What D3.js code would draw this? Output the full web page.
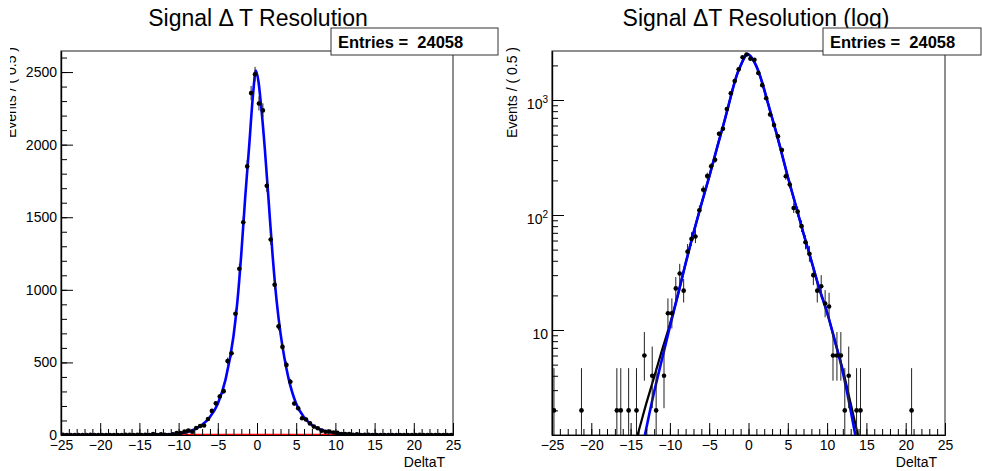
<!DOCTYPE html>
<html lang="en">
<head>
<meta charset="utf-8">
<title>Signal DeltaT Resolution</title>
<script src="https://cdn.jsdelivr.net/npm/d3@7"></script>
<style>
  body { margin: 0; background: #fff; }
  svg text { font-family: "Liberation Sans", Arial, sans-serif; fill: #000; }
</style>
</head>
<body>
<script>
var W = 982, H = 471;

// histogram: 100 bins of 0.5 from -25 to 25
var binLow = -25, binWidth = 0.5;
var counts = [
  2, 0, 0, 0, 0, 0, 0, 2, 0, 0,
  0, 0, 0, 0, 0, 0, 2, 2, 0, 2,
  0, 2, 0, 6, 0, 4, 2, 0, 4, 14,
  14, 23, 31, 22, 48, 62, 65, 110, 166, 218,
  265, 302, 509, 563, 835, 1145, 1465, 1850, 2355, 2485,
  2283, 2236, 1716, 1347, 1035, 748, 607, 483, 367, 217,
  184, 115, 107, 80, 58, 46, 30, 22, 24, 17,
  16, 6, 6, 6, 2, 4, 0, 2, 2, 0,
  0, 0, 0, 0, 0, 0, 0, 0, 0, 0,
  0, 2, 0, 0, 0, 0, 0, 0, 0, 0
];

// fit curves
var fitX = [-25, -20, -16, -15, -14, -13, -12, -11, -10, -9, -8, -7, -6, -5, -4, -3, -2.5, -2, -1.5, -1,
            -0.5, -0.15, 0.2, 0.5, 1, 1.5, 2, 2.5, 3, 3.5, 4, 5, 6, 7, 8, 9, 10, 11, 12, 13,
            14, 15, 16, 20, 25];
var fitSig = [0.001, 0.01, 0.12, 0.3, 0.65, 1.4, 2.9, 5.6, 10.7, 20, 38, 70, 124, 215, 385, 680, 920, 1250, 1640, 1990,
              2350, 2510, 2430, 2280, 1970, 1600, 1230, 925, 700, 530, 395, 215, 122, 69, 40, 23, 14.2, 8, 4.3, 2.0,
              0.85, 0.33, 0.12, 0.01, 0.001];
var fitTot = [0.05, 0.2, 0.45, 0.75, 1.3, 2.3, 3.9, 6.7, 11.2, 20, 38, 70, 124, 215, 385, 680, 920, 1250, 1640, 1990,
              2350, 2510, 2430, 2280, 1970, 1600, 1230, 925, 700, 530, 395, 215, 122, 69, 40, 23, 14.2, 8, 4.5, 2.3,
              1.15, 0.55, 0.25, 0.05, 0.01];
var bkgX = [-25, 25];
var bkgY = [2.5, 2.5];

var xTicks = [-25, -20, -15, -10, -5, 0, 5, 10, 15, 20, 25];
var linTicks = [0, 500, 1000, 1500, 2000, 2500];
var logTicks = [10, 100, 1000];
var logMinor = [2, 3, 4, 5, 6, 7, 8, 9, 20, 30, 40, 50, 60, 70, 80, 90,
                200, 300, 400, 500, 600, 700, 800, 900, 2000];

var centers = counts.map(function(c, i) { return binLow + binWidth * (i + 0.5); });
var bins = counts.map(function(c, i) { return { x: centers[i], n: c }; });

// approximate poisson interval
function errHi(n) { return n + 1 + Math.sqrt(n + 0.75); }
function errLo(n) {
  if (n <= 0) return 0;
  var t = 1 - 1 / (9 * n) - 1 / (3 * Math.sqrt(n));
  return n * t * t * t;
}

var svg = d3.select("body").append("svg")
            .attr("width", W)
            .attr("height", H);

function panel(o) {
  var x = d3.scaleLinear().domain([-25, 25]).range([o.x0, o.x1]);
  var y = o.y;
  var g = svg.append("g");

  var clipId = "clip" + o.id;
  svg.append("clipPath").attr("id", clipId)
     .append("rect")
     .attr("x", o.x0).attr("y", o.y0)
     .attr("width", o.x1 - o.x0).attr("height", o.y1 - o.y0);

  // frame
  g.append("rect")
   .attr("x", o.x0).attr("y", o.y0)
   .attr("width", o.x1 - o.x0).attr("height", o.y1 - o.y0)
   .attr("fill", "none").attr("stroke", "#444").attr("stroke-width", 1.2);

  var plot = g.append("g").attr("clip-path", "url(#" + clipId + ")");

  var line = d3.line()
               .x(function(d) { return x(d[0]); })
               .y(function(d) { return y(d[1]); })
               .curve(d3.curveMonotoneX);

  if (o.bkg) {
    plot.append("path")
        .datum(d3.zip(bkgX, bkgY))
        .attr("d", line)
        .attr("fill", "none").attr("stroke", "#ff0000").attr("stroke-width", 1.6);
  }
  if (o.total) {
    plot.append("path")
        .datum(d3.zip(fitX, fitTot))
        .attr("d", line)
        .attr("fill", "none").attr("stroke", "#000").attr("stroke-width", 2.2);
  }
  plot.append("path")
      .datum(d3.zip(fitX, fitSig))
      .attr("d", line)
      .attr("fill", "none").attr("stroke", "#0000ff").attr("stroke-width", 2.6);

  var pts = plot.selectAll("g.pt")
                .data(bins.filter(function(d) { return o.log ? d.n > 0 : true; }))
                .enter().append("g").attr("class", "pt");
  pts.append("line")
     .attr("x1", function(d) { return x(d.x); })
     .attr("x2", function(d) { return x(d.x); })
     .attr("y1", function(d) { return o.log && errLo(d.n) <= 0 ? o.y1 + 5 : y(Math.max(errLo(d.n), 1e-3)); })
     .attr("y2", function(d) { return y(errHi(d.n)); })
     .attr("stroke", "#222").attr("stroke-width", 1);
  pts.append("line")
     .attr("x1", function(d) { return x(d.x - binWidth / 2); })
     .attr("x2", function(d) { return x(d.x + binWidth / 2); })
     .attr("y1", function(d) { return y(d.n); })
     .attr("y2", function(d) { return y(d.n); })
     .attr("stroke", "#111").attr("stroke-width", 1);
  pts.append("circle")
     .attr("cx", function(d) { return x(d.x); })
     .attr("cy", function(d) { return y(d.n); })
     .attr("r", 2.3)
     .attr("fill", "#000");

  // x axis
  var xAxis = d3.axisBottom(x)
                .tickValues(xTicks)
                .tickSize(-12)
                .tickSizeOuter(0)
                .tickPadding(5)
                .tickFormat(function(d) { return d < 0 ? "\u2212" + (-d) : d; });
  var xMinor = d3.axisBottom(x)
                 .tickValues(d3.range(-25, 26, 1))
                 .tickSize(-6)
                 .tickSizeOuter(0)
                 .tickFormat("");
  g.append("g").attr("transform", "translate(0," + o.y1 + ")").call(xMinor);
  var gx = g.append("g").attr("transform", "translate(0," + o.y1 + ")").call(xAxis);
  gx.selectAll("text").attr("font-size", 14);

  // y axis
  if (!o.log) {
    var yAxis = d3.axisLeft(y)
                  .tickValues(linTicks)
                  .tickSize(-12)
                  .tickSizeOuter(0)
                  .tickPadding(4)
                  .tickFormat(d3.format("d"));
    var yMinor = d3.axisLeft(y)
                   .tickValues(d3.range(0, 2700, 100))
                   .tickSize(-6)
                   .tickSizeOuter(0)
                   .tickFormat("");
    g.append("g").attr("transform", "translate(" + o.x0 + ",0)").call(yMinor);
    var gy = g.append("g").attr("transform", "translate(" + o.x0 + ",0)").call(yAxis);
    gy.selectAll("text").attr("font-size", 14);
  } else {
    var yAxisL = d3.axisLeft(y)
                   .tickValues(logTicks)
                   .tickSize(-12)
                   .tickSizeOuter(0)
                   .tickFormat("");
    var yMinorL = d3.axisLeft(y)
                    .tickValues(logMinor)
                    .tickSize(-6)
                    .tickSizeOuter(0)
                    .tickFormat("");
    g.append("g").attr("transform", "translate(" + o.x0 + ",0)").call(yMinorL);
    g.append("g").attr("transform", "translate(" + o.x0 + ",0)").call(yAxisL);
    logTicks.forEach(function(v) {
      var t = g.append("text")
               .attr("x", o.x0 - 4)
               .attr("y", y(v) + 9)
               .attr("text-anchor", "end")
               .attr("font-size", 14);
      t.append("tspan").text("10");
      if (v > 10) {
        t.append("tspan").attr("dy", -6).attr("font-size", 10)
         .text(String(Math.round(Math.log10(v))));
      }
    });
  }
  g.selectAll(".domain").attr("stroke", "#000").attr("stroke-width", 1.2);
  g.selectAll(".tick line").attr("stroke", "#000");

  // axis titles
  g.append("text")
   .attr("x", o.x1 - 8).attr("y", 467)
   .attr("text-anchor", "end").attr("font-size", 14)
   .text("DeltaT");

  var ytg = g.append("g");
  if (o.ytClip) {
    svg.append("clipPath").attr("id", "ytclip")
       .append("rect").attr("x", o.ytClip).attr("y", 0).attr("width", 40).attr("height", H);
    ytg.attr("clip-path", "url(#ytclip)");
  }
  ytg.append("text")
     .attr("transform", "translate(" + o.ytX + ",47) rotate(-90)")
     .attr("text-anchor", "end").attr("font-size", 14)
     .text("Events / ( 0.5 )");

  // title
  g.append("text")
   .attr("x", o.titleX).attr("y", 26)
   .attr("text-anchor", "middle").attr("font-size", 23)
   .text(o.title);

  // stats box
  g.append("rect")
   .attr("x", o.boxX).attr("y", 28)
   .attr("width", o.boxW).attr("height", 27)
   .attr("fill", "#fff").attr("stroke", "#333").attr("stroke-width", 1);
  g.append("text")
   .attr("x", o.boxX + 7).attr("y", 48)
   .attr("font-size", 16.5).attr("font-weight", "bold")
   .attr("xml:space", "preserve")
   .style("white-space", "pre")
   .text("Entries =  24058");
}

panel({
  id: "lin", x0: 61, x1: 453, y0: 51, y1: 435,
  y: d3.scaleLinear().domain([0, 2645]).range([435, 51]),
  log: false, bkg: true, total: false,
  ytX: 16, ytClip: 10,
  title: "Signal \u0394 T Resolution", titleX: 258,
  boxX: 331, boxW: 167
});

panel({
  id: "log", x0: 552, x1: 945, y0: 51, y1: 435,
  y: d3.scaleLog().domain([1.222, 2668]).range([435, 51]),
  log: true, bkg: false, total: true,
  ytX: 517, ytClip: null,
  title: "Signal \u0394T Resolution (log)", titleX: 756,
  boxX: 823, boxW: 158
});
</script>
</body>
</html>
